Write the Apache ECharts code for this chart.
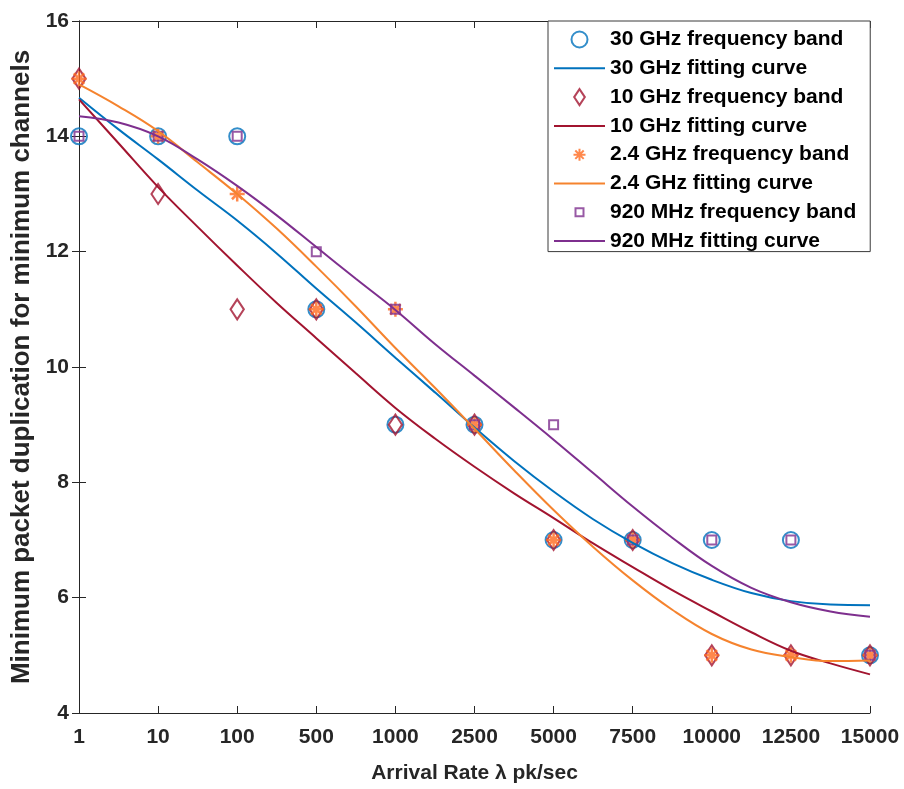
<!DOCTYPE html>
<html>
<head>
<meta charset="utf-8">
<script src="https://cdn.jsdelivr.net/npm/echarts@6/dist/echarts.min.js"></script>
<style>
html,body{margin:0;padding:0;background:#ffffff;}
#chart{width:904px;height:789px;}
</style>
</head>
<body>
<div id="chart"></div>
<script>
// ---- data ----
// x categories (evenly spaced on the axis)
const categories = ['1', '10', '100', '500', '1000', '2500', '5000', '7500', '10000', '12500', '15000'];

// measured points (one per category)
const band30  = [14, 14, 14, 11, 9, 9, 7, 7, 7, 7, 5];
const band10  = [15, 13, 11, 11, 9, 9, 7, 7, 5, 5, 5];
const band24  = [15, 14, 13, 11, 11, 9, 7, 7, 5, 5, 5];
const band920 = [14, 14, 14, 12, 11, 9, 9, 7, 7, 7, 5];

// fitting curves, read at every category and half-way between categories
const fitPositions = [0, 0.5, 1, 1.5, 2, 2.5, 3, 3.5, 4, 4.5, 5, 5.5, 6, 6.5, 7, 7.5, 8, 8.5, 9, 9.5, 10];
const fit30  = [14.67, 14.12, 13.60, 13.06, 12.54, 11.97, 11.36, 10.77, 10.16, 9.56, 8.95, 8.37, 7.84, 7.36, 6.95, 6.60, 6.31, 6.08, 5.94, 5.88, 5.87];
const fit10  = [14.64, 13.88, 13.12, 12.43, 11.76, 11.11, 10.50, 9.89, 9.29, 8.76, 8.27, 7.81, 7.38, 6.94, 6.53, 6.13, 5.76, 5.40, 5.08, 4.86, 4.67];
const fit24  = [14.90, 14.52, 14.09, 13.55, 13.00, 12.40, 11.74, 11.05, 10.33, 9.64, 8.93, 8.21, 7.52, 6.88, 6.30, 5.79, 5.37, 5.10, 4.97, 4.90, 4.91];
const fit920 = [14.35, 14.24, 14.00, 13.60, 13.14, 12.63, 12.08, 11.53, 10.99, 10.40, 9.85, 9.30, 8.74, 8.16, 7.58, 7.04, 6.55, 6.17, 5.92, 5.76, 5.67];

const seriesNames = [
  '30 GHz frequency band', '30 GHz fitting curve',
  '10 GHz frequency band', '10 GHz fitting curve',
  '2.4 GHz frequency band', '2.4 GHz fitting curve',
  '920 MHz frequency band', '920 MHz fitting curve'
];

// ---- build (x, y) pairs for the value axis ----
const pts = (arr) => arr.map((v, i) => [i, v]);
const curve = (arr) => arr.map((v, i) => [fitPositions[i], v]);

// ---- styling ----
const C30 = '#0072BD', C10 = '#A2142F', C24S = '#FF6A1F', C24L = '#F5832E', C920 = '#7E2F8E';
const AX = '#262626';
const FONT = '"Liberation Sans", Arial, Helvetica, sans-serif';
const SYM_DIAMOND = 'path://M0 0M18 18M9 0L15 9L9 18L3 9Z';
const SYM_STAR = 'path://M-2 -2M14 14M0 6L12 6M6 0L6 12M1.8 1.8L10.2 10.2M1.8 10.2L10.2 1.8';
const SYM_SQUARE = 'path://M0 0M18 18M4.5 4.5L13.5 4.5L13.5 13.5L4.5 13.5Z';

function scatter(name, data, symbol, size, color, bw) {
  return {
    name: name, type: 'scatter', data: pts(data),
    symbol: symbol, symbolSize: size, symbolKeepAspect: true,
    itemStyle: { color: 'rgba(255,255,255,0)', borderColor: color, borderWidth: bw },
    emphasis: { disabled: true }, animation: false
  };
}
function fitLine(name, data, color) {
  return {
    name: name, type: 'line', data: curve(data), smooth: 0.4,
    symbol: 'none', showSymbol: false,
    lineStyle: { color: color, width: 2 },
    itemStyle: { color: 'rgba(0,0,0,0)', borderWidth: 0 },
    emphasis: { disabled: true }, animation: false
  };
}

const axisCommon = {
  type: 'value', min: 0, max: 10, interval: 1,
  axisLine: { show: true, lineStyle: { color: AX, width: 1 } },
  axisTick: { show: true, inside: true, length: 7, lineStyle: { color: AX } },
  splitLine: { show: false }
};

const chart = echarts.init(document.getElementById('chart'), null, { renderer: 'canvas' });
chart.setOption({
  backgroundColor: '#ffffff',
  animation: false,
  textStyle: { fontFamily: FONT },
  grid: { left: 79, right: 34, top: 21, bottom: 72, containLabel: false },
  legend: {
    orient: 'vertical',
    left: 548, top: 21,
    padding: [8, 14, 0, 5],
    itemWidth: 51, itemHeight: 16, itemGap: 7.8,
    backgroundColor: '#ffffff',
    borderColor: '#3a3a3a', borderWidth: 1,
    selectedMode: false,
    textStyle: { fontFamily: FONT, fontSize: 21, fontWeight: 'bold', color: '#000000' },
    data: seriesNames
  },
  xAxis: [Object.assign({}, axisCommon, {
    position: 'bottom',
    name: 'Arrival Rate λ pk/sec', nameLocation: 'middle', nameGap: 50,
    nameTextStyle: { fontFamily: FONT, fontSize: 21, fontWeight: 'bold', color: AX },
    axisLabel: {
      fontFamily: FONT, fontSize: 21, fontWeight: 'bold', color: AX, margin: 14,
      formatter: (v) => categories[Math.round(v)]
    }
  }), Object.assign({}, axisCommon, {
    position: 'top',
    axisLabel: { show: false }
  })],
  yAxis: [{
    type: 'value', min: 4, max: 16, interval: 2, position: 'left',
    name: 'Minimum packet duplication for minimum channels', nameLocation: 'middle', nameGap: 36,
    nameTextStyle: { fontFamily: FONT, fontSize: 26, fontWeight: 'bold', color: AX },
    axisLine: { show: true, lineStyle: { color: AX, width: 1 } },
    axisTick: { show: true, inside: true, length: 7, lineStyle: { color: AX } },
    axisLabel: { fontFamily: FONT, fontSize: 21, fontWeight: 'bold', color: AX, margin: 10 },
    splitLine: { show: false }
  }, {
    type: 'value', min: 4, max: 16, interval: 2, position: 'right',
    axisLine: { show: true, lineStyle: { color: AX, width: 1 } },
    axisTick: { show: true, inside: true, length: 7, lineStyle: { color: AX } },
    axisLabel: { show: false }, splitLine: { show: false }
  }],
  series: [
    scatter(seriesNames[0], band30, 'circle', 16, C30, 2),
    fitLine(seriesNames[1], fit30, C30),
    scatter(seriesNames[2], band10, SYM_DIAMOND, 20, C10, 2),
    fitLine(seriesNames[3], fit10, C10),
    scatter(seriesNames[4], band24, SYM_STAR, 20, C24S, 2.5),
    fitLine(seriesNames[5], fit24, C24L),
    scatter(seriesNames[6], band920, SYM_SQUARE, 18, C920, 2),
    fitLine(seriesNames[7], fit920, C920)
  ]
});
</script>
</body>
</html>
